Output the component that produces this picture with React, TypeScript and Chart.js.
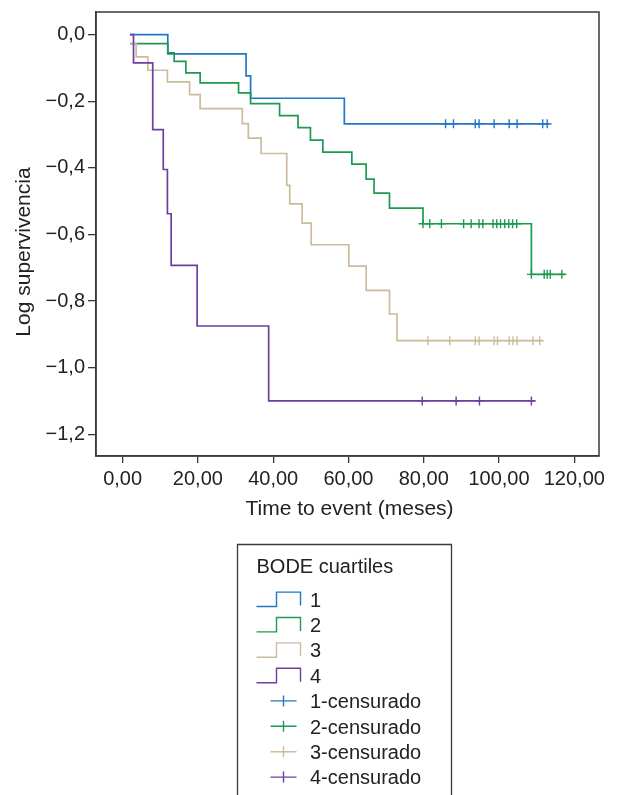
import React, { useEffect, useRef } from "react";
import { Chart, registerables } from "chart.js";

Chart.register(...registerables);

const FONT = "'Liberation Sans', Arial, Helvetica, sans-serif";
const TEXT = "#222222";
const AXIS = "#3a3a3a";

// Groups (BODE quartiles)
const groupLabels = ["1", "2", "3", "4"];
const censLabels = ["1-censurado", "2-censurado", "3-censurado", "4-censurado"];
const groupColors = ["#2077c6", "#1c9a50", "#cbbc9c", "#6c3ea1"];

// Group 1: event times and log survival after each drop
const g1Times = [2.0, 12.0, 32.8, 34.0, 58.9];
const g1Surv = [0, -0.058, -0.124, -0.191, -0.268];
const g1End = 113.4;
const g1Cens = [85.8, 87.9, 93.7, 94.7, 98.7, 102.7, 104.8, 111.6, 112.8];

// Group 2
const g2Times = [2.0, 12.0, 13.7, 16.8, 20.6, 30.8, 34.0, 41.7, 46.6, 49.9, 53.2, 60.9, 64.7, 66.8, 70.9, 79.8, 108.6];
const g2Surv = [-0.027, -0.055, -0.08, -0.115, -0.145, -0.175, -0.207, -0.243, -0.279, -0.317, -0.353, -0.389, -0.434, -0.476, -0.521, -0.568, -0.72];
const g2End = 117.6;
const g2Cens = [79.8, 81.6, 84.7, 90.6, 92.6, 94.7, 95.7, 98.4, 99.4, 100.4, 101.5, 102.6, 103.6, 104.7, 108.6, 112.0, 112.8, 113.6, 116.7];

// Group 3
const g3Times = [2.0, 3.6, 6.7, 11.9, 17.8, 20.6, 31.8, 33.4, 36.8, 43.6, 44.4, 47.7, 50.1, 60.1, 64.7, 70.9, 72.9];
const g3Surv = [-0.027, -0.067, -0.107, -0.142, -0.18, -0.222, -0.267, -0.311, -0.357, -0.453, -0.508, -0.566, -0.631, -0.695, -0.768, -0.839, -0.919];
const g3End = 111.6;
const g3Cens = [81.1, 86.9, 93.7, 94.7, 98.7, 99.6, 102.7, 103.7, 104.8, 109.0, 110.8];

// Group 4
const g4Times = [2.0, 2.9, 8.0, 10.8, 11.9, 12.9, 19.8, 38.8];
const g4Surv = [0, -0.085, -0.285, -0.405, -0.538, -0.693, -0.875, -1.1];
const g4End = 109.5;
const g4Cens = [79.6, 88.6, 94.8, 108.6];

const xTicks = [0, 20, 40, 60, 80, 100, 120];
const yTicks = [0, -0.2, -0.4, -0.6, -0.8, -1.0, -1.2];
const xTitle = "Time to event (meses)";
const yTitle = "Log supervivencia";
const legendTitle = "BODE cuartiles";

const groups = [
  { times: g1Times, surv: g1Surv, end: g1End, cens: g1Cens },
  { times: g2Times, surv: g2Surv, end: g2End, cens: g2Cens },
  { times: g3Times, surv: g3Surv, end: g3End, cens: g3Cens },
  { times: g4Times, surv: g4Surv, end: g4End, cens: g4Cens },
];

function stepPoints(times: number[], surv: number[], end: number) {
  const pts = times.map((t, i) => ({ x: t, y: surv[i] }));
  pts.push({ x: end, y: surv[surv.length - 1] });
  return pts;
}

function survAt(times: number[], surv: number[], t: number) {
  let v = surv[0];
  for (let i = 0; i < times.length; i++) if (times[i] <= t) v = surv[i];
  return v;
}

function fmtX(v: number) {
  return v.toFixed(2).replace(".", ",");
}
function fmtY(v: number) {
  if (Math.abs(v) < 1e-9) return "0,0";
  return (v < 0 ? "\u2212" : "") + Math.abs(v).toFixed(1).replace(".", ",");
}

const decorPlugin = {
  id: "decor",
  afterDatasetsDraw(chart: any) {
    const { ctx, chartArea } = chart;
    ctx.save();
    ctx.strokeStyle = AXIS;
    ctx.lineWidth = 1.5;
    ctx.strokeRect(chartArea.left, chartArea.top, chartArea.right - chartArea.left, chartArea.bottom - chartArea.top);
    ctx.restore();
  },
  afterDraw(chart: any) {
    const { ctx, chartArea } = chart;
    ctx.save();
    ctx.fillStyle = TEXT;
    ctx.font = `21px ${FONT}`;
    // x title
    ctx.textAlign = "center";
    ctx.textBaseline = "alphabetic";
    ctx.fillText(xTitle, (chartArea.left + chartArea.right) / 2 + 2, 515);
    // y title
    ctx.save();
    ctx.translate(30, 252);
    ctx.rotate(-Math.PI / 2);
    ctx.fillText(yTitle, 0, 0);
    ctx.restore();

    // legend box
    const L = 237.5, T = 544.5, R = 451.5, B = 800;
    ctx.strokeStyle = AXIS;
    ctx.lineWidth = 1.3;
    ctx.beginPath();
    ctx.moveTo(L, B);
    ctx.lineTo(L, T);
    ctx.lineTo(R, T);
    ctx.lineTo(R, B);
    ctx.stroke();

    ctx.textAlign = "left";
    ctx.font = `20px ${FONT}`;
    ctx.fillStyle = TEXT;
    ctx.fillText(legendTitle, 256.5, 573);

    const rowY = (i: number) => 599.3 + i * 25.4;
    for (let i = 0; i < 4; i++) {
      const cy = rowY(i);
      const base = cy + 7.2;
      const top = cy - 7.2;
      ctx.strokeStyle = groupColors[i];
      ctx.lineWidth = 1.4;
      ctx.beginPath();
      ctx.moveTo(256.5, base);
      ctx.lineTo(276.5, base);
      ctx.lineTo(276.5, top);
      ctx.lineTo(300.5, top);
      ctx.lineTo(300.5, base - 1);
      ctx.stroke();
      ctx.fillStyle = TEXT;
      ctx.fillText(groupLabels[i], 310, base);
    }
    for (let i = 0; i < 4; i++) {
      const cy = rowY(i + 4);
      const base = cy + 7.2;
      ctx.strokeStyle = groupColors[i];
      ctx.lineWidth = 1.4;
      ctx.beginPath();
      ctx.moveTo(270.5, cy);
      ctx.lineTo(296.5, cy);
      ctx.moveTo(283.5, cy - 5.5);
      ctx.lineTo(283.5, cy + 5.5);
      ctx.stroke();
      ctx.fillStyle = TEXT;
      ctx.fillText(censLabels[i], 310, base);
    }
    ctx.restore();
  },
};

export default function App() {
  const canvasRef = useRef<HTMLCanvasElement | null>(null);

  useEffect(() => {
    const canvas = canvasRef.current;
    if (!canvas) return;

    const lineSets = groups.map((g, i) => ({
      type: "line" as const,
      label: groupLabels[i],
      data: stepPoints(g.times, g.surv, g.end),
      borderColor: groupColors[i],
      backgroundColor: groupColors[i],
      borderWidth: 1.7,
      stepped: "before" as const,
      pointRadius: 0,
      fill: false,
      order: 10 - i,
    }));
    const censSets = groups.map((g, i) => ({
      type: "line" as const,
      label: censLabels[i],
      data: g.cens.map((t) => ({ x: t, y: survAt(g.times, g.surv, t) })),
      borderColor: groupColors[i],
      backgroundColor: groupColors[i],
      showLine: false,
      pointStyle: "cross" as const,
      pointRadius: 4.5,
      pointBorderWidth: 1.4,
      pointHoverRadius: 4.5,
      order: 1,
    }));

    const chart = new Chart(canvas, {
      type: "line",
      data: { datasets: [...lineSets, ...censSets] as any },
      options: {
        responsive: false,
        animation: false,
        devicePixelRatio: 1,
        events: [],
        layout: { padding: { left: 0, right: 23, top: 12, bottom: 299 } },
        plugins: { legend: { display: false }, tooltip: { enabled: false } },
        scales: {
          x: {
            type: "linear",
            min: -7.07,
            max: 126.56,
            afterBuildTicks: (s: any) => {
              s.ticks = xTicks.map((v) => ({ value: v }));
            },
            afterFit: (s: any) => {
              s.height = 40;
              s.paddingLeft = 0;
              s.paddingRight = 0;
            },
            grid: { drawOnChartArea: false, drawTicks: true, tickLength: 7, color: AXIS, lineWidth: 1.3 },
            border: { display: true, color: AXIS, width: 1.5 },
            ticks: {
              font: { family: FONT, size: 20 },
              color: TEXT,
              padding: 4,
              maxRotation: 0,
              autoSkip: false,
              callback: (v: any) => fmtX(Number(v)),
            },
          },
          y: {
            type: "linear",
            min: -1.2655,
            max: 0.068,
            afterBuildTicks: (s: any) => {
              s.ticks = yTicks.map((v) => ({ value: v }));
            },
            afterFit: (s: any) => {
              s.width = 96;
              s.paddingTop = 0;
              s.paddingBottom = 0;
            },
            grid: { drawOnChartArea: false, drawTicks: true, tickLength: 8, color: AXIS, lineWidth: 1.3 },
            border: { display: true, color: AXIS, width: 1.5 },
            ticks: {
              font: { family: FONT, size: 20 },
              color: TEXT,
              padding: 3,
              autoSkip: false,
              callback: (v: any) => fmtY(Number(v)),
            },
          },
        },
      },
      plugins: [decorPlugin],
    } as any);

    return () => chart.destroy();
  }, []);

  return (
    <div style={{ position: "absolute", left: 0, top: 0, width: 622, height: 795, background: "#fff" }}>
      <canvas ref={canvasRef} width={622} height={795} style={{ display: "block", width: 622, height: 795 }} />
    </div>
  );
}
